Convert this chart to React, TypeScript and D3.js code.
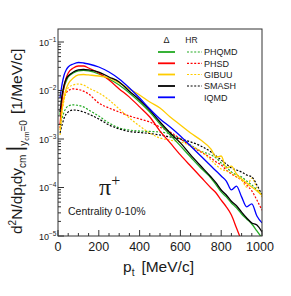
import React from "react";
import * as d3 from "d3";

const pt = [10, 20, 30, 40, 50, 75, 100, 125, 150, 200, 250, 300, 350, 400, 450, 500, 550, 600, 650, 700, 750, 775, 800, 825, 850, 875, 900, 925, 950, 975, 1000];

const phqmdDelta = [3.12e-3, 7.3e-3, 0.0118, 0.0156, 0.019, 0.0229, 0.0253, 0.0259, 0.0253, 0.0219, 0.0173, 0.013, 8.9e-3, 5.8e-3, 3.6e-3, 2.04e-3, 1.21e-3, 7.2e-4, 4.25e-4, 2.52e-4, 1.57e-4, 1.13e-4, 8.1e-5, 6.4e-5, 4.8e-5, 3.8e-5, 2.84e-5, 2.25e-5, 1.77e-5, 1.27e-5, 9.1e-6];
const phsdDelta = [1.95e-3, 6.4e-3, 0.0124, 0.0181, 0.0229, 0.0291, 0.032, 0.032, 0.0291, 0.0229, 0.0164, 0.0108, 7.3e-3, 4.6e-3, 2.84e-3, 1.46e-3, 8.3e-4, 4.7e-4, 2.77e-4, 1.65e-4, 9.8e-5, 7.7e-5, 5.5e-5, 4.0e-5, 2.71e-5, 1.46e-5, 7.9e-6, null, null, null, null];
const gibuuDelta = [1.53e-3, 3.96e-3, 7.3e-3, 0.0108, 0.0136, 0.0181, 0.0209, 0.0214, 0.0209, 0.0199, 0.0181, 0.0143, 0.0108, 8.1e-3, 5.8e-3, 4.36e-3, 2.84e-3, 1.95e-3, 1.33e-3, 9.5e-4, 6.2e-4, 4.25e-4, 4.46e-4, 2.52e-4, 2.77e-4, 1.9e-4, 1.5e-4, 1.24e-4, 1.02e-4, 8.5e-5, 7.0e-5];
const smashDelta = [3.6e-3, 8.1e-3, 0.013, 0.0173, 0.0199, 0.024, 0.0265, 0.0271, 0.0265, 0.024, 0.019, 0.015, 9.7e-3, 6.4e-3, 3.96e-3, 2.24e-3, 1.33e-3, 8.3e-4, 4.7e-4, 2.77e-4, 1.65e-4, 1.24e-4, 8.9e-5, 7.0e-5, 5.2e-5, 4.2e-5, 3.1e-5, 2.35e-5, 1.86e-5, 1.69e-5, 1.21e-5];
const iqmdDelta = [7.0e-3, 0.0136, 0.0209, 0.0265, 0.0305, 0.0352, 0.0378, 0.0369, 0.0352, 0.0305, 0.024, 0.0173, 0.0113, 7.0e-3, 4.16e-3, 2.59e-3, 1.76e-3, 1.15e-3, 7.2e-4, 4.46e-4, 2.77e-4, 2.19e-4, 1.73e-4, 1.36e-4, 8.9e-5, 1.07e-4, 6.4e-5, 4.0e-5, 4.6e-5, 2.58e-5, 1.86e-5];

const phqmdHR = [1.95e-3, 2.71e-3, 3.6e-3, 4.36e-3, 4.8e-3, 5.06e-3, 4.93e-3, 4.6e-3, 3.96e-3, 2.98e-3, 2.14e-3, 1.69e-3, 1.53e-3, 1.46e-3, 1.43e-3, 1.39e-3, 1.27e-3, 1.0e-3, 7.5e-4, 5.6e-4, 4.7e-4, 4.06e-4, 3.2e-4, 2.64e-4, 2.09e-4, 1.81e-4, 1.65e-4, 1.36e-4, 1.13e-4, 8.9e-5, 7.0e-5];
const phsdHR = [1.69e-3, 4.36e-3, 7.0e-3, 8.9e-3, 9.9e-3, 0.0108, 0.0105, 9.7e-3, 8.5e-3, 5.5e-3, 4.36e-3, 3.6e-3, 2.98e-3, 2.59e-3, 2.24e-3, 1.76e-3, 1.39e-3, 1.0e-3, 7.2e-4, 5.4e-4, 4.06e-4, 3.36e-4, 2.91e-4, 2.3e-4, 1.9e-4, 1.65e-4, 1.43e-4, 1.13e-4, 8.5e-5, 5.5e-5, 3.4e-5];
const gibuuHR = [1.21e-3, 3.6e-3, 6.4e-3, 9.3e-3, 0.0113, 0.013, 0.0136, 0.013, 0.0113, 8.9e-3, 6.4e-3, 4.16e-3, 2.71e-3, 1.85e-3, 1.33e-3, 1.05e-3, 9.5e-4, 8.7e-4, 7.2e-4, 5.6e-4, 3.69e-4, 2.91e-4, 2.4e-4, 2.19e-4, 1.99e-4, 1.65e-4, 1.43e-4, 1.02e-4, 1.57e-4, 9.8e-5, 6.4e-5];
const smashHR = [1.33e-3, 1.95e-3, 2.71e-3, 3.27e-3, 3.6e-3, 3.96e-3, 3.87e-3, 3.6e-3, 3.27e-3, 2.59e-3, 1.95e-3, 1.61e-3, 1.43e-3, 1.36e-3, 1.3e-3, 1.21e-3, 1.1e-3, 1.0e-3, 8.7e-4, 7.2e-4, 5.4e-4, 4.46e-4, 3.69e-4, 3.05e-4, 2.52e-4, 2.3e-4, 2.09e-4, 1.81e-4, 1.65e-4, 1.13e-4, 7.0e-5];

const modelNames = ["PHQMD", "PHSD", "GIBUU", "SMASH", "IQMD"];
const modelColors = ["#22aa22", "#ff0000", "#ffcc00", "#000000", "#0000ff"];
const deltaSeries = [phqmdDelta, phsdDelta, gibuuDelta, smashDelta, iqmdDelta];
const hrSeries = [phqmdHR, phsdHR, gibuuHR, smashHR, null];

const xTicks = [0, 200, 400, 600, 800, 1000];
const yDecades = [-5, -4, -3, -2, -1];

const W = 291, H = 296;
const L = 58, R = 262, T = 29, B = 236;
const FONT = "'Liberation Sans', Arial, Helvetica, sans-serif";
const TXT = "#1a1a1a";

export default function App() {
  const x = d3.scaleLinear().domain([0, 1000]).range([L, R]);
  const yTop = Math.pow(10, (B - T) / 48.5 - 5);
  const y = d3.scaleLog().domain([1e-5, yTop]).range([B, T]);

  const line = d3
    .line<number | null>()
    .defined((d) => d != null)
    .x((_, i) => x(pt[i]))
    .y((d) => y(d as number))
    .curve(d3.curveMonotoneX);

  const minorX = d3.range(0, 1001, 50).filter((v) => v % 200 !== 0);
  const minorY: number[] = [];
  for (const e of yDecades) {
    for (let k = 2; k <= 9; k++) {
      const v = k * Math.pow(10, e);
      if (v < yTop) minorY.push(v);
    }
  }

  const legendRows = [52, 63.3, 74.5, 86, 97.3];

  return (
    <svg
      width={W}
      height={H}
      style={{ position: "fixed", left: 0, top: 0, background: "#fff" }}
      fontFamily={FONT}
    >
      <defs>
        <clipPath id="plotclip">
          <rect x={L} y={T} width={R - L} height={B - T} />
        </clipPath>
      </defs>
      <rect x={0} y={0} width={W} height={H} fill="#fff" />

      <g clipPath="url(#plotclip)" fill="none">
        {hrSeries.map((s, i) =>
          s ? (
            <path key={"hr" + i} d={line(s) || ""} stroke={modelColors[i]} strokeWidth={1.2} strokeDasharray="2,1.6" />
          ) : null
        )}
        {deltaSeries.map((s, i) => (
          <path key={"d" + i} d={line(s) || ""} stroke={modelColors[i]} strokeWidth={1.3} />
        ))}
      </g>

      {/* frame */}
      <rect x={L} y={T} width={R - L} height={B - T} fill="none" stroke="#333" strokeWidth={1} />

      {/* x ticks */}
      {xTicks.map((v) => (
        <line key={"xt" + v} x1={x(v)} x2={x(v)} y1={B} y2={B - 6} stroke="#333" />
      ))}
      {minorX.map((v) => (
        <line key={"xm" + v} x1={x(v)} x2={x(v)} y1={B} y2={B - 3} stroke="#333" />
      ))}
      {xTicks.map((v) => (
        <text key={"xl" + v} x={v === 1000 ? x(v) - 2 : x(v)} y={250.5} fontSize={12.5} textAnchor="middle" fill={TXT}>
          {v}
        </text>
      ))}

      {/* y ticks */}
      {yDecades.map((e) => (
        <line key={"yt" + e} x1={L} x2={L + 6} y1={y(Math.pow(10, e))} y2={y(Math.pow(10, e))} stroke="#333" />
      ))}
      {minorY.map((v, i) => (
        <line key={"ym" + i} x1={L} x2={L + 3} y1={y(v)} y2={y(v)} stroke="#333" />
      ))}
      {yDecades.map((e) => (
        <text key={"yl" + e} x={39} y={y(Math.pow(10, e)) + 3.5} fontSize={9} fill={TXT}>
          10
          <tspan dy={-4} fontSize={6.5}>
            {"\u2212" + -e}
          </tspan>
        </text>
      ))}

      {/* x title */}
      <text x={123} y={272} fontSize={15.5} fill={TXT}>
        p<tspan dy={4} fontSize={10}>t</tspan>
        <tspan dy={-4} dx={7}>[MeV/c]</tspan>
      </text>

      {/* y title */}
      <text transform="translate(22,234) rotate(-90)" fontSize={15.5} fill={TXT}>
        d<tspan dy={-6} fontSize={10}>2</tspan>
        <tspan dy={6}>N/dp</tspan>
        <tspan dy={4} fontSize={10}>t</tspan>
        <tspan dy={-4}>dy</tspan>
        <tspan dy={4} fontSize={10}>cm</tspan>
        <tspan dy={-4} dx={3} fontSize={22}>|</tspan>
        <tspan dy={5} fontSize={10}>y</tspan>
        <tspan dy={2} fontSize={7}>cm</tspan>
        <tspan dy={-2} fontSize={10}>=0</tspan>
        <tspan dy={-5} dx={6}>[1/MeV/c]</tspan>
      </text>

      {/* pi+ label */}
      <text x={99} y={195} fontSize={24} fill={TXT} fontFamily="'Liberation Serif', 'DejaVu Serif', serif">
        π<tspan dy={-9} fontSize={16}>+</tspan>
      </text>
      <text x={68} y={214.5} fontSize={10.5} fill={TXT}>
        Centrality 0-10%
      </text>

      {/* legend */}
      <text x={166.5} y={43} fontSize={9} textAnchor="middle" fill={TXT}>Δ</text>
      <text x={191.5} y={43} fontSize={8.5} textAnchor="middle" fill={TXT}>HR</text>
      {modelNames.map((n, i) => (
        <g key={"lg" + n}>
          <line x1={158} x2={175} y1={legendRows[i]} y2={legendRows[i]} stroke={modelColors[i]} strokeWidth={1.8} />
          {hrSeries[i] ? (
            <line x1={187} x2={202} y1={legendRows[i]} y2={legendRows[i]} stroke={modelColors[i]} strokeWidth={1.2} strokeDasharray="2,1.6" />
          ) : null}
          <text x={204} y={legendRows[i] + 3.2} fontSize={9} fill={TXT}>
            {n}
          </text>
        </g>
      ))}
    </svg>
  );
}
